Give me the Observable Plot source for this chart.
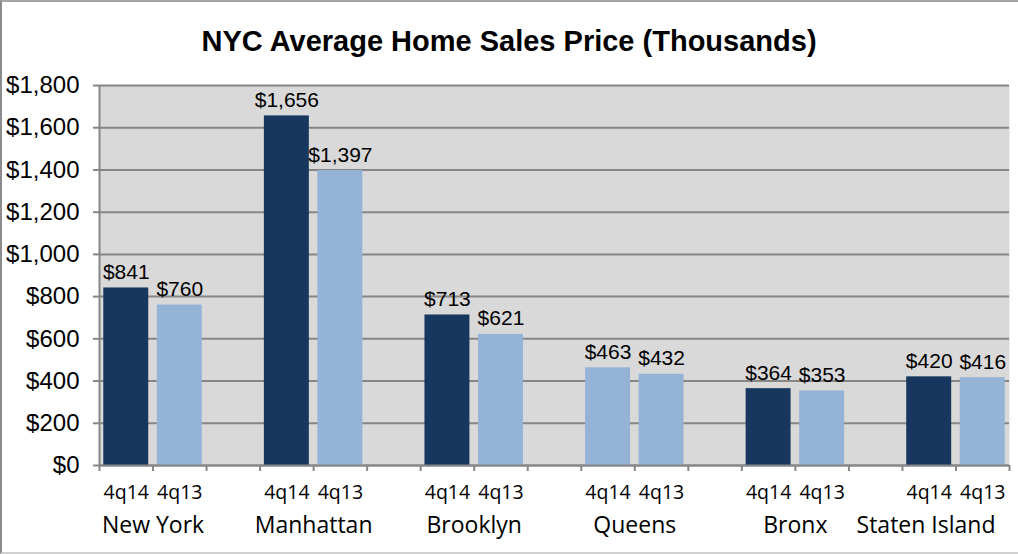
<!DOCTYPE html>
<html>
<head>
<meta charset="utf-8">
<script src="https://cdn.jsdelivr.net/npm/d3@7"></script>
<script src="https://cdn.jsdelivr.net/npm/@observablehq/plot@0.6"></script>
<style>
  html, body { margin: 0; padding: 0; background: #fff; }
  #wrap { position: relative; width: 1018px; height: 554px; overflow: hidden; background: #fff; }
  #title { position: absolute; left: 0; top: 0; width: 1018px; height: 70px; text-align: center;
    font-family: "Liberation Sans", Arial, sans-serif; font-weight: bold; font-size: 29px;
    line-height: 29px; padding-top: 27px; box-sizing: border-box; color: #000; }
  #chart { position: absolute; left: 0; top: 70px; }
  #border { position: absolute; left: 0; top: 0; width: 1018px; height: 554px; box-sizing: border-box;
    border-top: 2px solid #a6a6a6; border-left: 2px solid #8c8c8c; border-bottom: 2px solid #d0d0d0;
    pointer-events: none; }
</style>
</head>
<body>
<div id="wrap">
  <div id="title">NYC Average Home Sales Price (Thousands)</div>
  <div id="chart"></div>
  <div id="border"></div>
</div>
<script>
const regions = ["New York", "Manhattan", "Brooklyn", "Queens", "Bronx", "Staten Island"];
const periods = ["4q14", "4q13"];
const values4q14 = [841, 1656, 713, 463, 364, 420];
const values4q13 = [760, 1397, 621, 432, 353, 416];
const yTicks = [0, 200, 400, 600, 800, 1000, 1200, 1400, 1600, 1800];

const dark = "#17375e";
const light = "#95b3d7";

// one slot per bar, plus one empty slot between regions
const rows = [];
regions.forEach((r, g) => {
  [values4q14, values4q13].forEach((vals, k) => {
    rows.push({region: r, period: periods[k], value: vals[g], slot: g * 3 + k});
  });
});
const nSlots = regions.length * 3 - 1;
const inset = 0.08;
const fillOf = d => (d.region === "Queens" ? light : (d.period === "4q14" ? dark : light));
const groups = regions.map((r, g) => ({region: r, center: g * 3 + 1}));
const lastGroup = groups[groups.length - 1];
const innerGroups = groups.slice(0, -1);

const chart = Plot.plot({
  width: 1018,
  height: 484,
  marginLeft: 99,
  marginRight: 9,
  marginTop: 15,
  marginBottom: 89,
  style: {fontFamily: "'Liberation Sans', Arial, sans-serif", color: "#000", background: "transparent"},
  x: {type: "linear", domain: [0, nSlots]},
  y: {domain: [0, 1800]},
  marks: [
    Plot.frame({fill: "#d9d9d9", stroke: null}),
    Plot.gridY(yTicks, {stroke: "#868686", strokeOpacity: 1, strokeWidth: 2}),
    Plot.rectY(rows, {
      x1: d => d.slot + inset,
      x2: d => d.slot + 1 - inset,
      y1: 0,
      y2: "value",
      fill: fillOf
    }),
    Plot.text(rows, {
      x: d => d.slot + 0.5,
      y: "value",
      text: d => "$" + d3.format(",")(d.value),
      lineAnchor: "bottom",
      dy: -9,
      fontSize: 21,
      fill: "#000"
    }),
    Plot.ruleX([0], {stroke: "#868686", strokeWidth: 2}),
    Plot.ruleY([0], {stroke: "#868686", strokeWidth: 2}),
    Plot.axisY({
      ticks: yTicks,
      tickFormat: d => "$" + d3.format(",")(d),
      tickSize: 6,
      tickPadding: 14,
      fontSize: 24,
      stroke: "#868686",
      strokeWidth: 2,
      label: null
    }),
    Plot.axisX({
      ticks: d3.range(nSlots + 1),
      tickFormat: () => "",
      tickSize: 6,
      stroke: "#868686",
      strokeWidth: 2,
      label: null
    }),
    Plot.text(rows, {
      x: d => d.slot + 0.5,
      y: 0,
      text: "period",
      dy: 27,
      fontSize: 19.5,
      fontFamily: "'Open Sans', 'Liberation Sans', sans-serif",
      fill: "#000"
    }),
    Plot.text(innerGroups, {
      x: "center",
      y: 0,
      text: "region",
      dy: 60,
      fontSize: 23,
      fontFamily: "'Open Sans', 'Liberation Sans', sans-serif",
      fill: "#000"
    }),
    // last label is pulled inside the chart's right edge, as in the original
    Plot.text([lastGroup], {
      x: nSlots,
      y: 0,
      text: "region",
      textAnchor: "end",
      dy: 60,
      dx: -14,
      fontSize: 23,
      fontFamily: "'Open Sans', 'Liberation Sans', sans-serif",
      fill: "#000"
    })
  ]
});
document.getElementById("chart").appendChild(chart);
</script>
</body>
</html>
